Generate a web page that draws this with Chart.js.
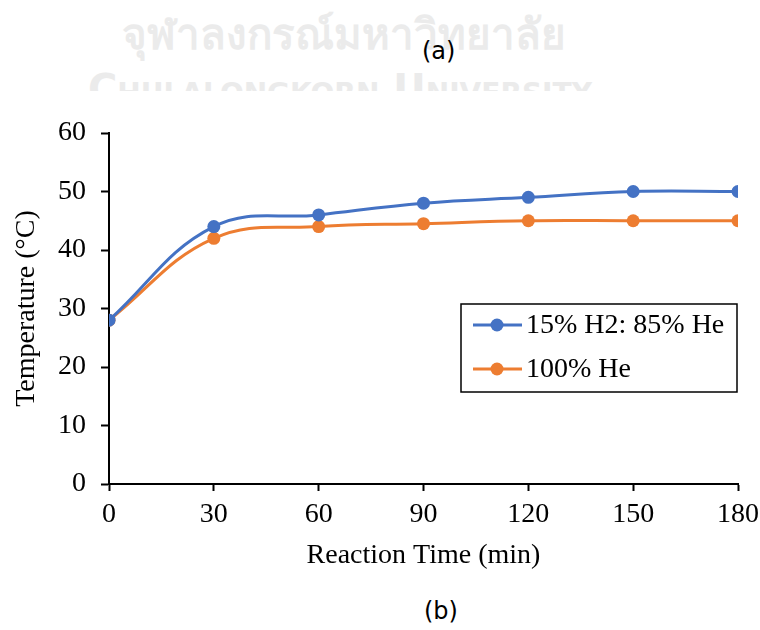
<!DOCTYPE html>
<html>
<head>
<meta charset="utf-8">
<script src="https://cdn.jsdelivr.net/npm/chart.js@4.4.0/dist/chart.umd.min.js"></script>
<style>
  html, body { margin: 0; padding: 0; background: #fff; }
  #wrap { position: relative; width: 760px; height: 630px; overflow: hidden; }
  #chart { position: absolute; left: 0; top: 0; }
  .wm-th { position: absolute; left: 122px; top: 1px; font: bold 42px "Noto Sans", "DejaVu Sans", sans-serif; color: #ebebeb; white-space: nowrap; }
  .wm-en { position: absolute; left: 0; top: 66px; width: 760px; height: 25px; overflow: hidden; }
  .wm-en span { position: absolute; left: 88px; top: 0; font: bold 40px "DejaVu Sans", sans-serif; color: #ebebeb; font-variant: small-caps; white-space: nowrap; }
  .lbl { position: absolute; font: 24px "DejaVu Sans", sans-serif; color: #000; }
</style>
</head>
<body>
<div id="wrap">
  <div class="wm-th">จุฬาลงกรณ์มหาวิทยาลัย</div>
  <div class="wm-en"><span>Chulalongkorn University</span></div>
  <div class="lbl" style="left:422px; top:37px;">(a)</div>
  <div class="lbl" style="left:424px; top:597px;">(b)</div>
  <canvas id="chart" width="760" height="630"></canvas>
</div>
<script>
// reaction time (min)
const times = [0, 30, 60, 90, 120, 150, 180];
const h2He = [28, 44, 46, 48, 49, 50, 50];
const pureHe = [28, 42, 44, 44.5, 45, 45, 45];
const seriesNames = ['15% H2: 85% He', '100% He'];
const seriesColors = ['#4472c4', '#ed7d31'];

const serif = 'Liberation Serif, Times New Roman, serif';

function makeSet(label, values, color) {
    return {
        label: label,
        data: times.map((t, i) => ({ x: t, y: values[i] })),
        borderColor: color,
        backgroundColor: color,
        borderWidth: 3,
        pointRadius: 6.5,
        pointHoverRadius: 6.5,
        pointBorderWidth: 0,
        tension: 0.4,
        cubicInterpolationMode: 'default'
    };
}

// legend box drawn inside the plot area
const boxLegend = {
    id: 'boxLegend',
    afterDraw(chart) {
        const ctx = chart.ctx;
        const area = chart.chartArea;
        const w = 276, h = 88;
        const x0 = area.right - w - 1, y0 = area.top + 171;
        ctx.save();
        ctx.fillStyle = '#fff';
        ctx.fillRect(x0, y0, w, h);
        ctx.strokeStyle = '#000';
        ctx.lineWidth = 1.5;
        ctx.strokeRect(x0, y0, w, h);
        ctx.font = '28px ' + serif;
        ctx.textBaseline = 'middle';
        chart.data.datasets.forEach((ds, i) => {
            const cy = y0 + 21 + i * 44;
            ctx.strokeStyle = ds.borderColor;
            ctx.lineWidth = 3;
            ctx.beginPath();
            ctx.moveTo(x0 + 12, cy);
            ctx.lineTo(x0 + 61, cy);
            ctx.stroke();
            ctx.fillStyle = ds.borderColor;
            ctx.beginPath();
            ctx.arc(x0 + 36, cy, 6.5, 0, Math.PI * 2);
            ctx.fill();
            ctx.fillStyle = '#000';
            ctx.fillText(ds.label, x0 + 65, cy + 1);
        });
        ctx.restore();
    }
};

new Chart(document.getElementById('chart'), {
    type: 'line',
    data: {
        datasets: [
            makeSet(seriesNames[0], h2He, seriesColors[0]),
            makeSet(seriesNames[1], pureHe, seriesColors[1])
        ]
    },
    options: {
        responsive: false,
        animation: false,
        layout: { padding: { top: 133, right: 22, bottom: 0, left: 0 } },
        plugins: { legend: { display: false }, tooltip: { enabled: false } },
        scales: {
            x: {
                type: 'linear',
                min: 0, max: 180,
                afterBuildTicks: s => { s.ticks = times.map(v => ({ value: v })); },
                afterFit: s => { s.height = 146; s.paddingLeft = 0; s.paddingRight = 0; },
                grid: { display: true, drawOnChartArea: false, drawTicks: true, tickLength: 7, tickColor: '#000', tickWidth: 2 },
                border: { display: true, color: '#000', width: 2 },
                ticks: { color: '#000', font: { family: serif, size: 28 }, padding: 7, maxRotation: 0 },
                title: { display: true, text: 'Reaction Time (min)', color: '#000', font: { family: serif, size: 28 }, padding: { top: 4, bottom: 58 } }
            },
            y: {
                min: 0, max: 60,
                afterFit: s => { s.width = 109; },
                grid: { display: true, drawOnChartArea: false, drawTicks: true, tickLength: 8, tickColor: '#000', tickWidth: 2 },
                border: { display: true, color: '#000', width: 2 },
                ticks: { stepSize: 10, color: '#000', font: { family: serif, size: 28 }, padding: 15 },
                title: { display: true, text: 'Temperature (°C)', color: '#000', font: { family: serif, size: 28 }, padding: { top: 10, bottom: 0 } }
            }
        }
    },
    plugins: [boxLegend]
});
</script>
</body>
</html>
